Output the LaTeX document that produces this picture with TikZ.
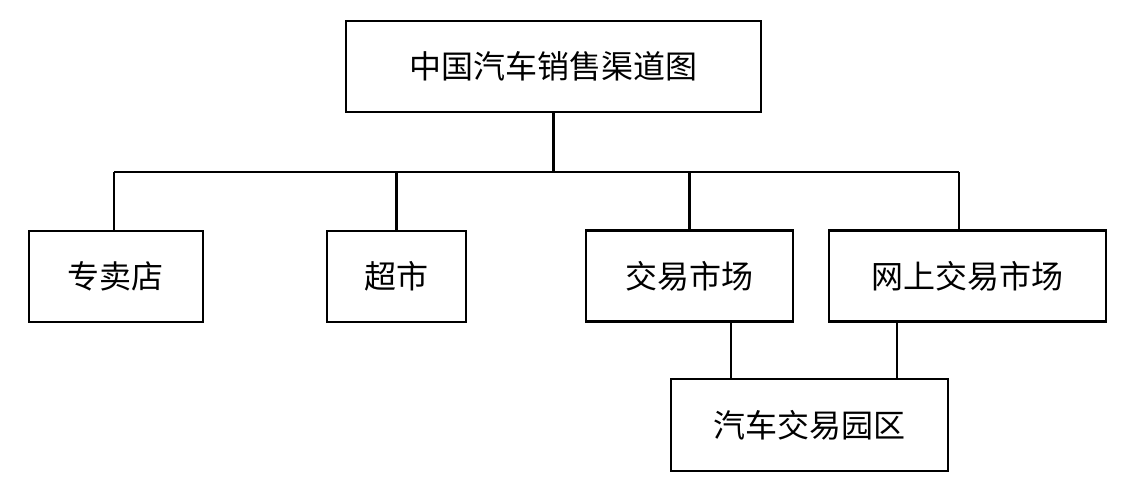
\documentclass[tikz,border=0pt]{standalone}
\usepackage{fontspec}
\usepackage{tikz}
\newfontfamily\cjk{Noto Sans CJK SC}
\usetikzlibrary{positioning}

\tikzset{
  box/.style={draw,line width=1.3pt,inner sep=0pt,minimum height=45.5pt,
    font=\cjk\fontsize{16}{16}\selectfont},
  link/.style={line width=1.1pt}
}

\begin{document}
\begin{tikzpicture}[x=0.5pt,y=-0.5pt]
  \useasboundingbox (0,0) rectangle (1126,488);
  % boxes
  \node[box,minimum width=207.5pt] (title) at (553.5,66.5) {中国汽车销售渠道图};
  \node[box,minimum width=87pt] (store) at (116,276.5) {专卖店};
  \node[box,minimum width=69.5pt] (super) at (396.5,276.5) {超市};
  \node[box,minimum width=103.5pt] (market) at (689.5,276) {交易市场};
  \node[box,minimum width=138.5pt] (online) at (967.5,276) {网上交易市场};
  \node[box,minimum width=138.5pt,minimum height=46pt] (park) at (809.5,425) {汽车交易园区};
  % bus
  \coordinate (busL) at (114,172);
  \coordinate (busR) at (959,172);
  \draw[link] (title.south) -- (title.south |- busL);
  \draw[link] (busL) -- (busR);
  \draw[link] (busL) -- (busL |- store.north);
  \draw[link] (super.north |- busL) -- (super.north);
  \draw[link] (market.north |- busL) -- (market.north);
  \draw[link] (busR) -- (busR |- online.north);
  % lower links
  \coordinate (m1) at (731,321);
  \coordinate (m2) at (897,321);
  \draw[link] (m1) -- (m1 |- park.north);
  \draw[link] (m2) -- (m2 |- park.north);
\end{tikzpicture}
\end{document}
